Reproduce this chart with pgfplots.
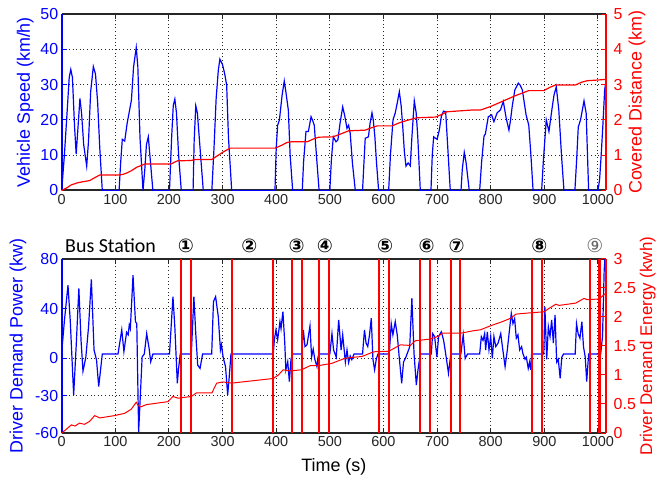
\documentclass[border=0pt]{standalone}
\usepackage{pgfplots}
\pgfplotsset{compat=1.18}
\usepackage{fontspec}
\setmainfont{Liberation Sans}
\newfontfamily\calibri{Carlito}
\newfontfamily\dejavu{DejaVu Sans}
\definecolor{mblue}{RGB}{0,0,255}
\definecolor{mred}{RGB}{255,0,0}
\definecolor{tgray}{RGB}{38,38,38}

\pgfplotsset{
  base/.style={
    scale only axis, width=544.3bp, xmin=0, xmax=1015,
    xtick={0,100,...,1000},
    anchor=south west,
    /pgf/number format/assume math mode=true,
    /pgf/number format/1000 sep={},
    tick label style={font=\fontsize{16}{16}\selectfont},
    x tick label style={text=tgray, font=\fontsize{14.5}{15}\selectfont, inner xsep=0pt},
    major tick length=5bp,
    label style={font=\fontsize{18}{18}\selectfont},
  },
  leftax/.style={base,
    axis y line*=left,
    axis line style={line width=2bp, tgray},
    y axis line style={mblue},
    ytick style={mblue, line width=1bp},
    xtick style={tgray, line width=1bp},
    y tick label style={text=mblue},
    ylabel style={text=mblue},
    grid=major, grid style={black!85, line width=1bp, dash pattern=on 1bp off 2.6bp},
  },
  rightax/.style={base,
    axis y line*=right, axis x line=none,
    y axis line style={mred, line width=2bp},
    ytick style={mred, line width=1bp},
    y tick label style={text=mred, xshift=7bp, inner xsep=0.5bp},
    ylabel style={text=mred},
  },
}

\begin{document}
\begin{tikzpicture}
\useasboundingbox (0,0) rectangle (662bp,486bp);

% ---------------- top panel ----------------
\begin{axis}[leftax, at={(61.7bp,295.5bp)}, height=176.5bp,
  ymin=0, ymax=50, ytick={0,10,...,50},
  ylabel={Vehicle Speed (km/h)}]
\addplot[mblue, line width=1.2bp] coordinates {
(0,0) (5,10) (10,22) (14,32) (17,34.3) (20,32) (24,18) (27,10.3) (30,17) (34,26.1) (37,22) (41,13) (46.6,6.9) (50,14) (54,28) (59,35.1) (63,33) (67,25) (71,12) (75.7,0) (107,0) (110,8) (113,14.5) (117.5,14) (122,19) (130,25.6) (134,35) (139,40.5) (142,35) (146,15) (151.6,0) (155,6) (158,13) (161.5,15.2) (165,9) (170,0) (201,0) (205,15) (208,24) (211,25.9) (214,22) (218,10) (223,0) (245,0) (247,14) (250,24) (253,22) (258,12) (264,0) (280,0) (284,12) (288,26) (292,34) (295,37.2) (300,35.6) (304,33) (307.6,29.9) (311,15) (317,0) (397.7,0) (400,12) (402.7,18.5) (406,20) (411,27) (415,31) (418,28) (422.6,22.8) (426,10) (430.7,0) (448.6,0) (451,8) (455.5,16.7) (460,16.7) (465,20.9) (468,19.8) (471,18.5) (475,10) (480,0) (500,0) (503,9) (506.5,15.2) (511.5,13.8) (515,14.3) (519,19) (524,23.7) (528,21) (532,17.6) (535,18.5) (538,16.2) (542,8) (547.5,0) (561,0) (564,9) (566,14.8) (572,15.2) (575,19) (578.6,22) (581,20) (584,15.2) (587,8) (591,0) (609.7,0) (613,10) (617.8,20) (622,22) (626,25) (629.6,28) (633,24) (636,18) (639,11) (642,6.9) (646,7.8) (650,7) (653,15) (657.5,25.4) (661,22) (664,15.2) (668.7,0) (688.6,0) (691,10) (693.6,15.2) (697,14.8) (700,14.5) (704,17) (708,21) (712,22.5) (716,22.3) (720,12) (724.6,0) (744.6,0) (747,6) (750.7,10.8) (754,8) (760,0) (779.4,0) (783,8) (787.5,15.4) (790,16) (795.5,20.9) (801.7,21.4) (806,19.5) (812,22) (818,22.8) (823.5,25.2) (826,23) (829,20.4) (834,17.1) (837,20) (840,23.7) (845,28.5) (851.5,30.4) (855,29.8) (859,28.5) (866,21.4) (871,18.5) (875,10) (879,0) (895,0) (898,8) (903.6,20) (908.6,16.7) (914.8,23.7) (918,27) (922.3,29.4) (927,22.8) (932,10) (936.6,0) (957,0) (960,8) (963.3,18) (967.5,20) (974,25.4) (978,21.9) (982.6,0) (1000,0) (1003,3) (1006,10) (1009,18) (1012.5,28.5) (1015,31)
};
\end{axis}
\begin{axis}[rightax, at={(61.7bp,295.5bp)}, height=176.5bp,
  ymin=0, ymax=5, ytick={0,1,...,5},
  ylabel shift=2bp,
  ylabel={Covered Distance (km)}]
\addplot[mred, line width=1.2bp] coordinates {
(0,0) (10,0.08) (18,0.16) (30,0.22) (40,0.25) (52,0.28) (60,0.35) (71,0.44) (108,0.44) (115,0.46) (122,0.50) (130,0.56) (140,0.66) (145.4,0.69) (155,0.75) (204,0.75) (210,0.8) (216,0.84) (241,0.85) (250,0.88) (280,0.88) (290,0.98) (300,1.08) (314,1.2) (398,1.2) (410,1.28) (420,1.36) (428,1.38) (458,1.38) (468,1.45) (479,1.51) (506,1.52) (520,1.6) (535,1.69) (566,1.71) (578,1.78) (588,1.83) (616,1.83) (630,1.92) (645,1.99) (662,2.06) (697,2.08) (708,2.15) (718,2.23) (765,2.28) (781,2.28) (800,2.38) (821,2.52) (845,2.68) (871,2.83) (899,2.83) (910,2.92) (921,2.99) (958,2.99) (970,3.07) (980,3.11) (1000,3.13) (1015,3.15)
};
\end{axis}

% ---------------- bottom panel ----------------
\begin{axis}[leftax, at={(61.7bp,53bp)}, height=174bp,
  ymin=-60, ymax=80, ytick={-60,-30,0,40,80},
  xlabel={Time (s)}, xlabel shift=5bp, ylabel shift=2bp,
  ylabel={Driver Demand Power (kw)}]
\addplot[mblue, line width=1.2bp] coordinates {
(0,5) (5,30) (11.7,59) (16,30) (22.3,-29.4) (27,10) (32,56.4) (36,15) (39.7,-10.3) (45,1) (50,25) (55.3,63.6) (60.3,6.8) (65,-1.3) (69,-22.7) (75.7,3.5) (105,3.5) (112,23) (116,5.5) (121,21) (124,19) (126,27) (128,24) (133,67) (137.5,29.6) (140,28) (143.5,-59) (150,1.3) (154,3.5) (158.5,20) (163,8) (166,-2.6) (170,3.5) (201,3.5) (207.5,49.7) (211,25) (215.6,-20) (218,-8) (221,3.5) (241.7,3.5) (246.5,49.7) (250,20) (253.6,-5.4) (258,-8) (262.7,3.5) (279.7,3.5) (283,45.7) (287,49.7) (292,33.6) (296,6.8) (298,11) (301,1) (305.5,-6.6) (309.5,-29.4) (312.5,-14.4) (315.6,3.5) (394.6,3.5) (396.5,15) (399.6,23) (402.7,15) (407,29.6) (409,24) (412.5,37.6) (416,12.3) (418,-9.2) (421.5,-2.6) (424.5,-18.6) (427.6,-0.7) (430,3.5) (447.5,3.5) (450.6,23) (453.7,9.5) (457.5,11) (463,26.1) (466,1) (469,7.5) (472,-0.7) (476,-6.6) (478,1) (480,3.5) (500,3.5) (504,20) (507,6.8) (512,1) (516.5,31) (521,6.8) (524,19) (529,-3) (532,6.8) (535,-3.3) (538,2) (541,-1) (545,3.5) (561,3.5) (564.6,23) (567.6,12.3) (570.7,9.5) (574,19) (577.3,32.3) (580.4,-0.7) (583.5,-9.2) (586.6,-0.7) (589.7,3.5) (610.8,3.5) (614.5,28) (617.6,19) (622,29.6) (625.7,19) (629.4,1) (634,-20) (637.4,-3) (641.8,1) (646.8,6.8) (649,9.5) (653,48.4) (657,4) (661.3,-21.4) (664.4,-9.2) (668.7,3.5) (689.2,3.5) (691.7,20) (695.4,17.6) (699.7,1) (702.8,17.6) (707.8,21.4) (712,15) (715,6.8) (721.3,-12) (725.6,3.5) (744.3,3.5) (748.7,19) (752.4,0) (756.7,3.5) (779.4,3.5) (782.5,17.5) (785.6,14.5) (788.7,20) (790.6,6.8) (793.7,21.4) (796.8,6.8) (800,17.6) (803,0) (806,17.6) (809.4,9.5) (813.7,12.3) (818.7,20) (821.8,9.5) (826.8,-6.6) (831,6.8) (834,19) (838.4,36.3) (841.5,28) (844.6,32) (847.7,16.3) (850.8,19) (854,6.8) (857.6,9.5) (860,4) (864,-0.7) (866.5,1) (870,-8) (872.5,-3) (874.5,-9.2) (876.3,3.5) (899,3.5) (901,41.6) (904.4,-0.7) (907.5,25.5) (910.6,17.6) (913.7,31) (916.8,12.3) (920,35) (923,-3) (926,-0.7) (929.5,-16) (932.6,1) (935.7,3.5) (957.5,3.5) (960,28) (963,20) (966.4,16.3) (970,29.6) (973,9.5) (976.3,1) (979,-18.6) (982.6,3.5) (1005,3.5) (1008.5,17.6) (1011.6,71) (1013,80)
};
\end{axis}
\begin{axis}[rightax, at={(61.7bp,53bp)}, height=174bp,
  ymin=0, ymax=3, ytick={0,0.5,...,3},
  clip=false, ylabel shift=0bp,
  ylabel style={font=\fontsize{17}{17}\selectfont},
  ylabel={Driver Demand Energy (kwh)}]
\addplot[mred, line width=1bp] coordinates {
(0,0) (8,0.06) (18,0.14) (25,0.12) (33,0.17) (42.5,0.15) (52,0.2) (61.5,0.3) (71,0.26) (98.6,0.3) (117.5,0.34) (129.7,0.41) (139,0.53) (143,0.47) (147.4,0.45) (158,0.49) (198,0.54) (207.5,0.63) (217,0.6) (241.7,0.63) (251,0.69) (280,0.69) (289,0.86) (301,0.88) (317,0.86) (394.6,0.94) (404,1.0) (413,1.09) (425.5,1.07) (447.5,1.09) (463,1.16) (478,1.16) (503.5,1.2) (529,1.29) (560,1.32) (581.6,1.40) (610,1.41) (631.6,1.52) (650,1.51) (659.5,1.59) (687.5,1.62) (703,1.67) (709.4,1.72) (744,1.72) (765.6,1.76) (781,1.78) (803,1.86) (821.8,1.92) (837.5,1.98) (847,2.05) (871.5,2.07) (899.5,2.09) (909,2.15) (921.4,2.22) (927.6,2.2) (958.6,2.24) (974,2.32) (980,2.3) (1002,2.31) (1011,2.38) (1015,2.42)
};
\addplot[ycomb, mred, line width=2.2bp, mark=none] coordinates {
(221.8,3) (240.5,3) (317,3) (393.4,3) (429.4,3) (447.5,3) (479.8,3) (499,3) (591.6,3) (610.3,3) (668,3) (686.8,3) (725.3,3) (742,3) (877,3) (895.6,3) (985,3) (1003,3)
};
\node[anchor=west, font=\calibri\fontsize{20}{20}\selectfont] at (axis cs:0,3.224) {Bus Station};
\begin{scope}[every node/.style={font=\dejavu\bfseries\fontsize{19}{19}\selectfont}]
\node at (axis cs:231.8,3.224) {①};
\node at (axis cs:349.8,3.224) {②};
\node at (axis cs:438,3.224) {③};
\node at (axis cs:491,3.224) {④};
\node at (axis cs:603,3.224) {⑤};
\node at (axis cs:680.5,3.224) {⑥};
\node at (axis cs:736.5,3.224) {⑦};
\node at (axis cs:890.6,3.224) {⑧};
\end{scope}
\node[font=\dejavu\fontsize{19}{19}\selectfont, text=black!60] at (axis cs:994.4,3.224) {⑨};
\end{axis}
\end{tikzpicture}
\end{document}
